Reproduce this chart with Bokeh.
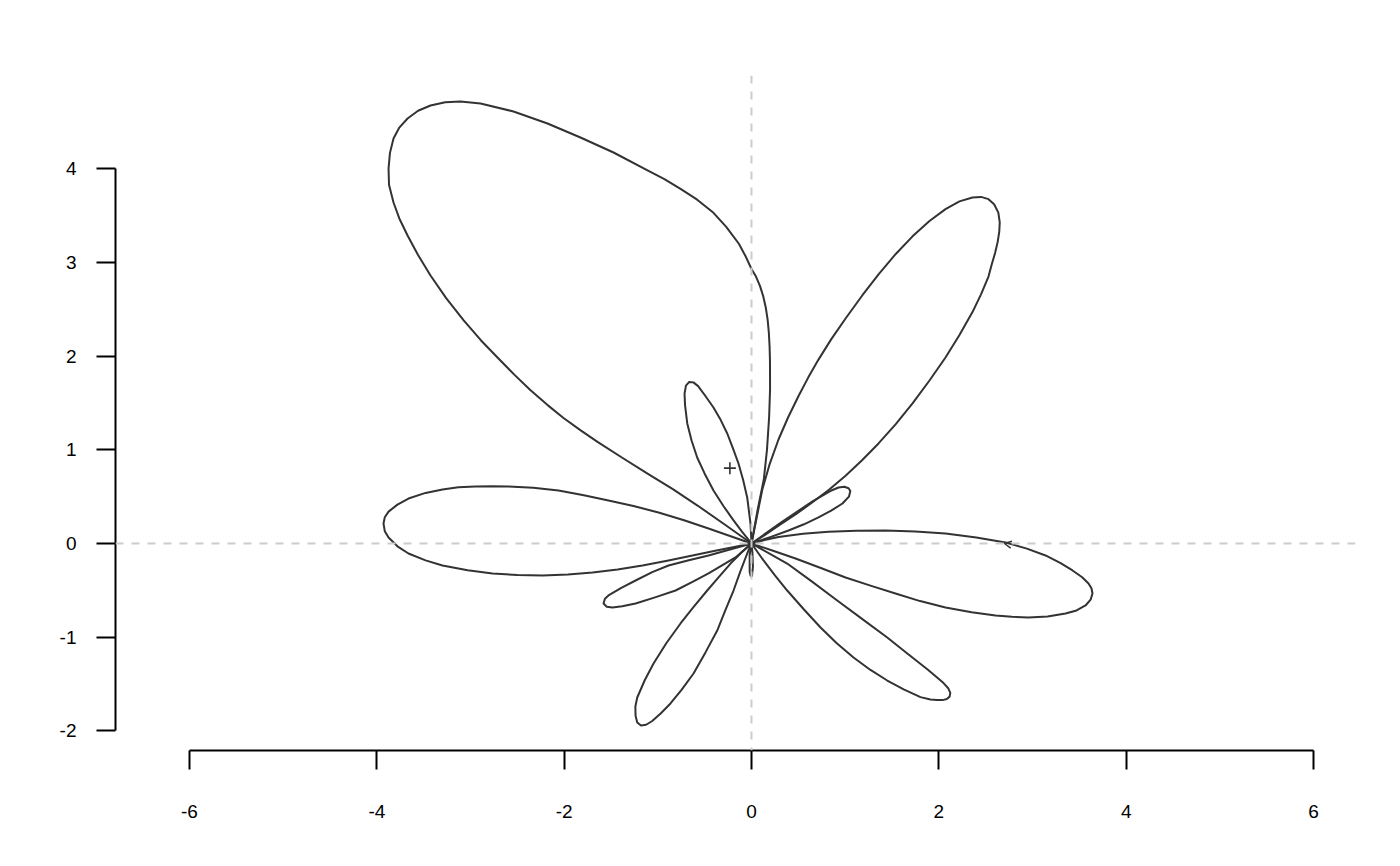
from bokeh.plotting import figure
from bokeh.models import Range1d, FixedTicker, Span, Arrow, OpenHead
from bokeh.embed import file_html
from bokeh.resources import INLINE

# ---- data (polar "flower" outline, each petal starts/ends at origin) ----
petal_upper_left_x = [0, 0.064, 0.132, 0.165, 0.188, 0.198, 0.197, 0.193, 0.185, 0.172, 0.152, 0.125,
                      0.090, 0.048, 0.0, -0.065, -0.135, -0.270, -0.406, -0.580, -0.758, -0.930,
                      -1.110, -1.473, -1.826, -2.178, -2.541, -2.893, -3.107, -3.270, -3.427, -3.560,
                      -3.672, -3.760, -3.822, -3.860, -3.875, -3.870, -3.822, -3.760, -3.672, -3.560,
                      -3.427, -3.260, -3.075, -2.890, -2.712, -2.530, -2.359, -2.180, -2.007, -1.820,
                      -1.644, -1.380, -1.110, -0.840, -0.576, -0.290, 0]
petal_upper_left_y = [0, 0.352, 0.690, 1.000, 1.350, 1.650, 1.950, 2.100, 2.250, 2.390, 2.520, 2.640,
                      2.750, 2.850, 2.930, 3.070, 3.200, 3.380, 3.530, 3.670, 3.785, 3.890,
                      3.982, 4.174, 4.334, 4.484, 4.612, 4.697, 4.719, 4.710, 4.676, 4.620,
                      4.537, 4.440, 4.324, 4.170, 4.003, 3.830, 3.640, 3.470, 3.288, 3.080,
                      2.861, 2.620, 2.385, 2.170, 1.985, 1.800, 1.635, 1.480, 1.340, 1.205,
                      1.085, 0.915, 0.745, 0.580, 0.405, 0.205, 0]

petal_upper_right_x = [0, 0.114, 0.190, 0.288, 0.390, 0.502, 0.605, 0.715, 0.850, 1.004, 1.180, 1.356,
                       1.540, 1.719, 1.900, 2.071, 2.220, 2.359, 2.450, 2.530, 2.590, 2.635, 2.650,
                       2.645, 2.628, 2.600, 2.565, 2.530, 2.450, 2.359, 2.220, 2.071, 1.900, 1.719,
                       1.540, 1.356, 1.180, 1.004, 0.830, 0.651, 0.470, 0.288, 0.140, 0]
petal_upper_right_y = [0, 0.570, 0.836, 1.110, 1.345, 1.575, 1.771, 1.963, 2.179, 2.402, 2.645, 2.874,
                       3.091, 3.279, 3.442, 3.570, 3.652, 3.694, 3.700, 3.676, 3.622, 3.532, 3.427,
                       3.330, 3.220, 3.100, 2.980, 2.850, 2.660, 2.470, 2.225, 1.986, 1.740, 1.495,
                       1.275, 1.068, 0.888, 0.724, 0.576, 0.440, 0.310, 0.190, 0.090, 0]

petal_small_ne_x = [0, 0.310, 0.651, 0.840, 0.929, 0.990, 1.036, 1.055, 1.040, 0.971, 0.850, 0.715,
                    0.560, 0.395, 0.200, 0]
petal_small_ne_y = [0, 0.220, 0.450, 0.560, 0.598, 0.606, 0.590, 0.560, 0.500, 0.427, 0.350, 0.278,
                    0.205, 0.139, 0.068, 0]

petal_right_x = [0, 0.150, 0.288, 0.550, 0.822, 1.120, 1.431, 1.750, 2.071, 2.400, 2.712, 2.940, 3.139,
                 3.300, 3.427, 3.530, 3.598, 3.630, 3.640, 3.620, 3.566, 3.470, 3.352, 3.160, 2.957,
                 2.780, 2.605, 2.350, 2.071, 1.800, 1.537, 1.270, 1.004, 0.740, 0.470, 0.230, 0]
petal_right_y = [0, 0.040, 0.070, 0.103, 0.125, 0.136, 0.139, 0.128, 0.107, 0.065, 0.011, -0.055, -0.128,
                 -0.210, -0.288, -0.360, -0.427, -0.480, -0.534, -0.600, -0.662, -0.715, -0.747, -0.780,
                 -0.790, -0.783, -0.769, -0.735, -0.683, -0.615, -0.534, -0.450, -0.363, -0.262, -0.160,
                 -0.078, 0]

petal_lower_right_x = [0, 0.381, 0.650, 0.915, 1.180, 1.449, 1.670, 1.880, 1.975, 2.050, 2.100, 2.122,
                       2.115, 2.085, 2.040, 1.980, 1.910, 1.804, 1.630, 1.449, 1.270, 1.089, 0.910,
                       0.737, 0.560, 0.381, 0.250, 0.128, 0]
petal_lower_right_y = [0, -0.214, -0.410, -0.609, -0.805, -1.004, -1.180, -1.345, -1.425, -1.490,
                       -1.545, -1.595, -1.635, -1.660, -1.672, -1.672, -1.665, -1.640, -1.560, -1.463,
                       -1.350, -1.217, -1.065, -0.897, -0.705, -0.502, -0.340, -0.181, 0]

petal_tiny_x = [0, 0.010, 0.015, 0.005, -0.010, -0.020, -0.020, 0]
petal_tiny_y = [0, -0.100, -0.250, -0.345, -0.345, -0.300, -0.120, 0]

petal_lower_x = [0, -0.046, -0.120, -0.192, -0.280, -0.366, -0.490, -0.619, -0.745, -0.865, -0.970,
                 -1.060, -1.125, -1.180, -1.220, -1.238, -1.240, -1.220, -1.140, -1.046, -0.910,
                 -0.758, -0.620, -0.473, -0.350, -0.224, -0.110, 0]
petal_lower_y = [0, -0.107, -0.300, -0.502, -0.715, -0.929, -1.160, -1.388, -1.560, -1.708, -1.815,
                 -1.895, -1.935, -1.943, -1.910, -1.840, -1.740, -1.644, -1.460, -1.281, -1.065,
                 -0.854, -0.680, -0.502, -0.360, -0.214, -0.100, 0]

petal_small_sw_x = [0, -0.230, -0.459, -0.670, -0.886, -1.060, -1.238, -1.390, -1.527, -1.565, -1.580,
                    -1.545, -1.484, -1.380, -1.238, -1.030, -0.811, -0.630, -0.459, -0.310, -0.171, 0]
petal_small_sw_y = [0, -0.065, -0.128, -0.178, -0.235, -0.305, -0.395, -0.475, -0.555, -0.590, -0.641,
                    -0.675, -0.683, -0.670, -0.641, -0.575, -0.502, -0.410, -0.320, -0.230, -0.149, 0]

petal_left_x = [0, -0.230, -0.459, -0.720, -0.993, -1.260, -1.527, -1.790, -2.060, -2.330, -2.594,
                -2.770, -2.947, -3.130, -3.299, -3.480, -3.662, -3.780, -3.875, -3.915, -3.929,
                -3.915, -3.875, -3.780, -3.662, -3.480, -3.299, -3.030, -2.765, -2.500, -2.231,
                -1.960, -1.697, -1.430, -1.164, -0.900, -0.630, -0.400, -0.171, 0]
petal_left_y = [0, 0.080, 0.160, 0.248, 0.331, 0.400, 0.459, 0.515, 0.566, 0.595, 0.609,
                0.612, 0.609, 0.600, 0.577, 0.540, 0.480, 0.415, 0.340, 0.280, 0.214,
                0.130, 0.064, -0.030, -0.107, -0.180, -0.235, -0.285, -0.320, -0.337, -0.342,
                -0.330, -0.310, -0.277, -0.235, -0.185, -0.128, -0.081, -0.035, 0]

petal_small_nw_x = [0, -0.011, -0.046, -0.090, -0.139, -0.200, -0.259, -0.330, -0.406, -0.500, -0.570,
                    -0.620, -0.665, -0.700, -0.715, -0.710, -0.686, -0.640, -0.580, -0.500, -0.406,
                    -0.300, -0.192, -0.100, 0]
petal_small_nw_y = [0, 0.214, 0.491, 0.680, 0.854, 1.020, 1.174, 1.320, 1.452, 1.585, 1.680,
                    1.720, 1.725, 1.685, 1.600, 1.480, 1.281, 1.100, 0.918, 0.745, 0.566,
                    0.400, 0.246, 0.125, 0]

first_point = (2.70, 0.0)
centroid = (-0.231, 0.804)

x_ticks = [-6, -4, -2, 0, 2, 4, 6]
y_ticks = [-2, -1, 0, 1, 2, 3, 4]

# ---- figure ----
p = figure(width=1392, height=858, x_range=Range1d(-6.790, 6.448), y_range=Range1d(-2.210, 4.996),
           output_backend="svg", toolbar_location=None,
           min_border_left=115, min_border_top=75, min_border_right=37, min_border_bottom=108)
p.grid.visible = False
p.outline_line_color = None
p.background_fill_color = "white"

for ax, ticks in ((p.xaxis[0], x_ticks), (p.yaxis[0], y_ticks)):
    ax.ticker = FixedTicker(ticks=ticks)
    ax.bounds = (min(ticks), max(ticks))
    ax.major_label_overrides = {t: str(t) for t in ticks}
    ax.axis_line_color = "black"
    ax.axis_line_width = 2
    ax.major_tick_line_color = "black"
    ax.major_tick_line_width = 2
    ax.major_tick_out = 19
    ax.major_tick_in = 0
    ax.minor_tick_line_color = None
    ax.major_label_text_font = "Liberation Sans"
    ax.major_label_text_font_size = "19px"
    ax.major_label_text_color = "black"

p.xaxis.major_label_standoff = 35
p.yaxis.major_label_standoff = 20

# dashed xy axes through origin
p.add_layout(Span(location=0, dimension="width", line_color="#CCCCCC", line_width=2, line_dash="8 8"))
p.add_layout(Span(location=0, dimension="height", line_color="#CCCCCC", line_width=2, line_dash="8 8"))

xs = [petal_upper_left_x, petal_upper_right_x, petal_small_ne_x, petal_right_x, petal_lower_right_x,
      petal_tiny_x, petal_lower_x, petal_small_sw_x, petal_left_x, petal_small_nw_x]
ys = [petal_upper_left_y, petal_upper_right_y, petal_small_ne_y, petal_right_y, petal_lower_right_y,
      petal_tiny_y, petal_lower_y, petal_small_sw_y, petal_left_y, petal_small_nw_y]
p.multi_line(xs=xs, ys=ys, line_color="#333333", line_width=2, line_join="round", line_cap="round")

# centroid
p.scatter([centroid[0]], [centroid[1]], marker="cross", size=12, line_color="#333333", line_width=1.6)

# first point arrow head
p.add_layout(Arrow(end=OpenHead(size=7, line_color="#333333", line_width=1.5),
                   x_start=first_point[0] + 0.10, y_start=first_point[1] - 0.018,
                   x_end=first_point[0], y_end=first_point[1], line_alpha=0))

open("out.html", "w").write(file_html(p, INLINE))
